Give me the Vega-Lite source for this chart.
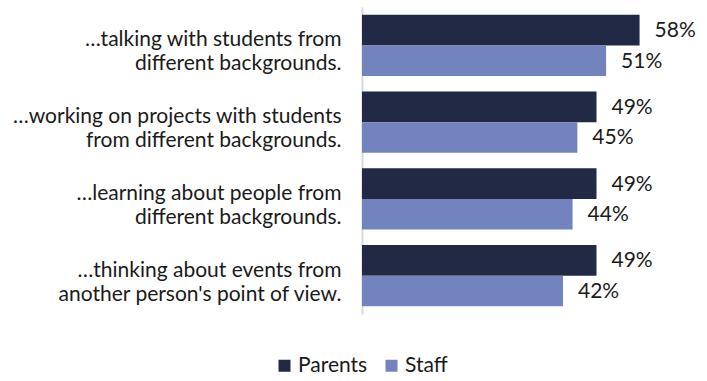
{
  "$schema": "https://vega.github.io/schema/vega-lite/v6.json",
  "autosize": "none",
  "width": 335,
  "height": 307,
  "padding": {"left": 362, "top": 7, "right": 10, "bottom": 67},
  "background": "white",
  "config": {"font": "Lato", "view": {"stroke": null}},
  "data": {
    "values": [
      {"item": "…talking with students from|different backgrounds.", "group": "Parents", "value": 58},
      {"item": "…talking with students from|different backgrounds.", "group": "Staff", "value": 51},
      {"item": "…working on projects with students|from different backgrounds.", "group": "Parents", "value": 49},
      {"item": "…working on projects with students|from different backgrounds.", "group": "Staff", "value": 45},
      {"item": "…learning about people from|different backgrounds.", "group": "Parents", "value": 49},
      {"item": "…learning about people from|different backgrounds.", "group": "Staff", "value": 44},
      {"item": "…thinking about events from|another person's point of view.", "group": "Parents", "value": 49},
      {"item": "…thinking about events from|another person's point of view.", "group": "Staff", "value": 42}
    ]
  },
  "encoding": {
    "y": {
      "field": "item",
      "type": "nominal",
      "sort": null,
      "scale": {"paddingInner": 0.2, "paddingOuter": 0.1},
      "axis": {
        "title": null,
        "ticks": false,
        "domainColor": "#d9d9d9",
        "domainWidth": 2,
        "labelExpr": "split(datum.label, '|')",
        "labelFont": "Lato",
        "labelFontSize": 21,
        "labelColor": "#1a1a1a",
        "labelPadding": 21,
        "labelLimit": 400,
        "labelLineHeight": 24,
        "labelOffset": -5,
        "labelAlign": "right"
      }
    },
    "yOffset": {"field": "group", "type": "nominal", "sort": ["Parents", "Staff"], "scale": {"paddingInner": 0, "paddingOuter": 0}},
    "x": {
      "field": "value",
      "type": "quantitative",
      "scale": {"domain": [0, 70]},
      "axis": null
    }
  },
  "layer": [
    {
      "mark": {"type": "bar"},
      "encoding": {
        "color": {
          "field": "group",
          "type": "nominal",
          "sort": ["Parents", "Staff"],
          "scale": {"domain": ["Parents", "Staff"], "range": ["#222944", "#7383be"]},
          "legend": {
            "title": null,
            "orient": "none",
            "direction": "horizontal",
            "legendX": -88,
            "legendY": 348,
            "symbolType": "square",
            "symbolSize": 144,
            "symbolStrokeWidth": 0,
            "labelFont": "Lato",
            "labelFontSize": 21,
            "labelColor": "#1a1a1a",
            "labelOffset": 3,
            "columnPadding": 13,
            "padding": 0
          }
        }
      }
    },
    {
      "transform": [{"calculate": "datum.value + '%'", "as": "lbl"}],
      "mark": {"type": "text", "align": "left", "baseline": "middle", "dx": 15, "dy": 1, "font": "Lato", "fontSize": 21, "color": "#1a1a1a"},
      "encoding": {
        "text": {"field": "lbl", "type": "nominal"},
        "detail": {"field": "group"}
      }
    }
  ]
}
